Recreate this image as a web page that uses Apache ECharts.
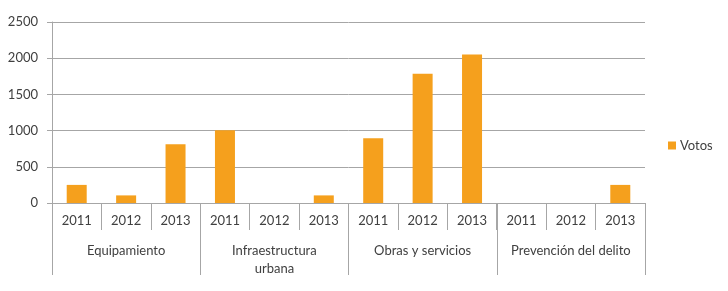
<!DOCTYPE html>
<html>
<head>
<meta charset="utf-8">
<script src="https://cdn.jsdelivr.net/npm/echarts@6/dist/echarts.min.js"></script>
<style>
html,body{margin:0;padding:0;background:#fff;}
#chart{width:728px;height:291px;}
</style>
</head>
<body>
<div id="chart"></div>
<script>
var years = ['2011','2012','2013','2011','2012','2013','2011','2012','2013','2011','2012','2013'];
var groups = ['Equipamiento','Infraestructura\nurbana','Obras y servicios','Prevención del delito'];
var votos = [250, 105, 810, 1005, 0, 105, 895, 1785, 2050, 0, 0, 250];
var seriesName = 'Votos';
var yTicks = {min: 0, max: 2500, interval: 500};

var font = 'Lato, "Open Sans", sans-serif';
var textColor = '#404040';
var lineColor = '#a6a6a6';

var chart = echarts.init(document.getElementById('chart'), null, {renderer: 'canvas'});
chart.setOption({
  animation: false,
  backgroundColor: '#fff',
  textStyle: {fontFamily: font},
  grid: {left: 52, right: 83, top: 22, bottom: 88},
  legend: {
    data: [seriesName],
    left: 663, top: 134,
    itemWidth: 8, itemHeight: 8,
    icon: 'rect',
    textStyle: {fontFamily: font, fontSize: 13, color: textColor, padding: [0,0,0,-1]}
  },
  xAxis: [
    {
      type: 'category',
      data: years,
      position: 'bottom',
      axisLine: {show: true, lineStyle: {color: lineColor}},
      axisTick: {show: true, interval: 0, length: 27, lineStyle: {color: lineColor}},
      axisLabel: {interval: 0, margin: 11, fontSize: 13, color: textColor, fontFamily: font}
    },
    {
      type: 'category',
      data: groups,
      position: 'bottom',
      axisLine: {show: false},
      axisTick: {show: true, interval: 0, length: 72, lineStyle: {color: lineColor}},
      axisLabel: {interval: 0, margin: 39, fontSize: 13, lineHeight: 18, color: textColor, fontFamily: font}
    }
  ],
  yAxis: {
    type: 'value',
    min: yTicks.min, max: yTicks.max, interval: yTicks.interval,
    axisLine: {show: true, lineStyle: {color: lineColor}},
    axisTick: {show: true, length: 5, lineStyle: {color: lineColor}},
    axisLabel: {margin: 14, fontSize: 13, color: textColor, fontFamily: font,
      formatter: function (v) { return String(v); }},
    splitLine: {show: true, lineStyle: {color: lineColor}}
  },
  series: [{
    name: seriesName,
    type: 'bar',
    xAxisIndex: 0,
    data: votos,
    barWidth: 20,
    itemStyle: {color: '#F5A01D'}
  }]
});
</script>
</body>
</html>
